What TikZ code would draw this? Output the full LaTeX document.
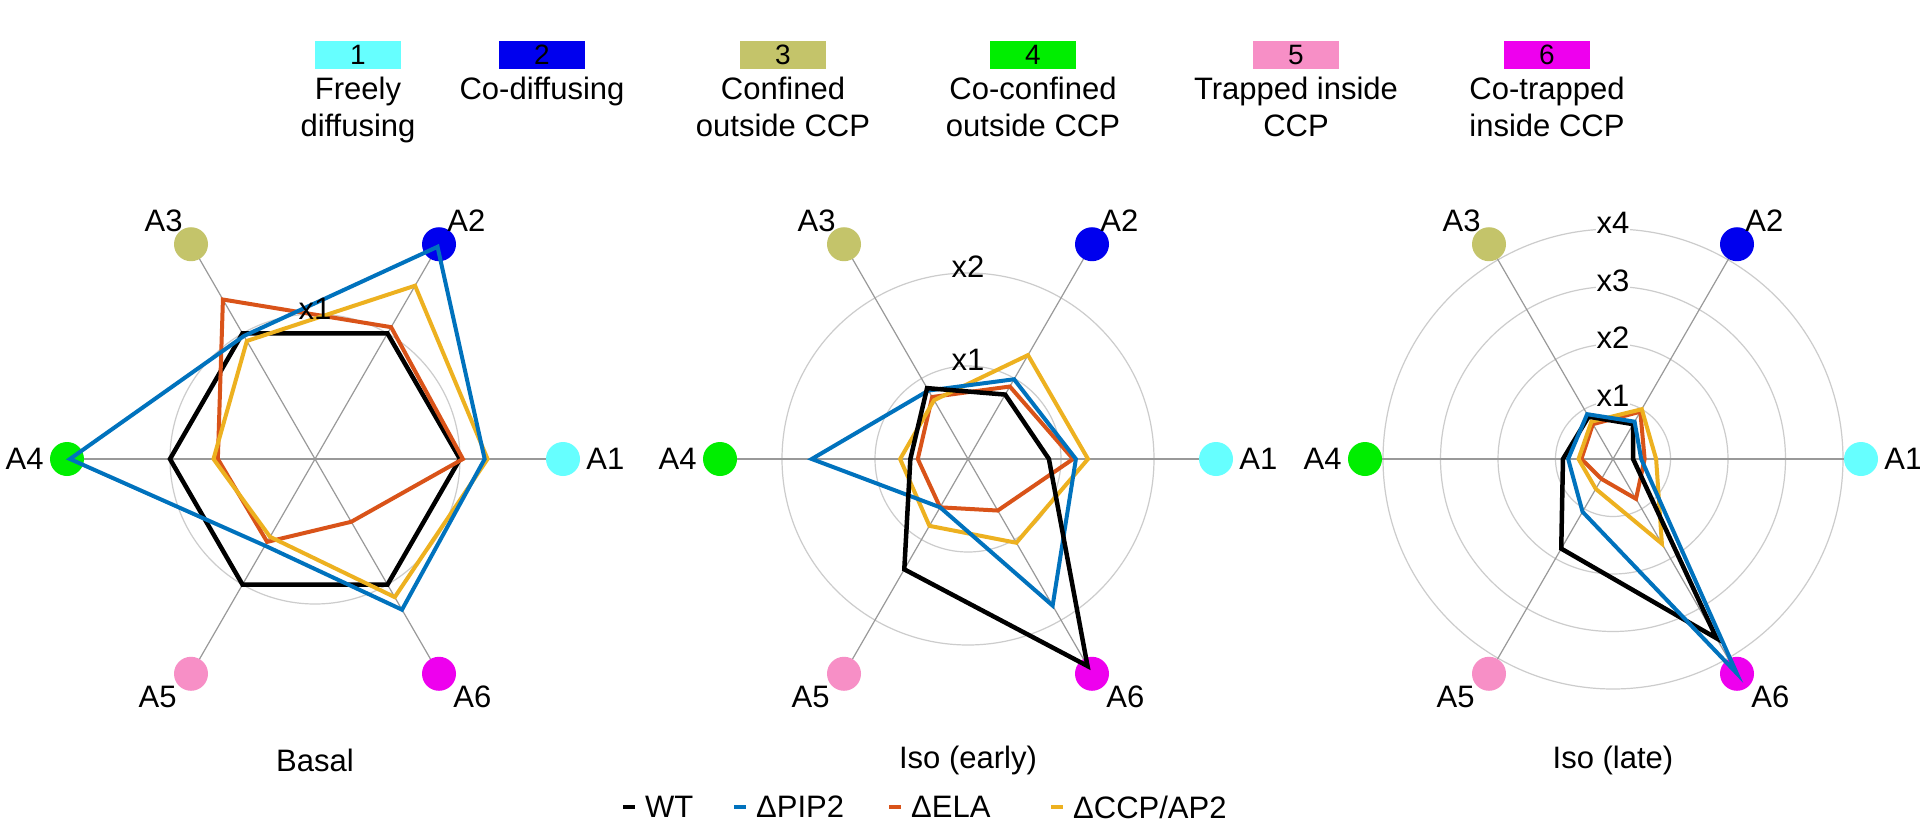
\documentclass[tikz,border=0pt]{standalone}
\usepackage{fontspec}
\setmainfont{Liberation Sans}
\definecolor{cOne}{HTML}{66FFFF}
\definecolor{cTwo}{HTML}{0000EE}
\definecolor{cThree}{HTML}{C4C46A}
\definecolor{cFour}{HTML}{00EE00}
\definecolor{cFive}{HTML}{F78FC6}
\definecolor{cSix}{HTML}{EE00EE}
\definecolor{pipblue}{HTML}{0072BD}
\definecolor{elared}{HTML}{D95319}
\definecolor{ccpgold}{HTML}{EDB120}
\tikzset{
  lbl/.style={font=\fontsize{31}{37}\selectfont, inner sep=2pt},
  catdot/.style={circle, inner sep=0pt, minimum size=34pt},
  axisline/.style={draw=gray!80, line width=1.2pt},
  ringline/.style={draw=gray!40, line width=1.2pt},
  wt/.style={draw=black, line width=4.5pt, line join=miter},
  pip/.style={draw=pipblue, line width=4pt},
  ela/.style={draw=elared, line width=4pt},
  ccp/.style={draw=ccpgold, line width=4pt},
  legbox/.style={minimum width=86pt, minimum height=28pt, inner sep=0pt, font=\fontsize{28}{32}\selectfont}
}
% one spider chart: prefix, centre x, title
\newcommand{\radar}[3]{%
  \foreach \i/\c in {1/cOne,2/cTwo,3/cThree,4/cFour,5/cFive,6/cSix}{
    \draw[axisline] (#2,-459) -- ++({60*(\i-1)}:248);
    \node[catdot, fill=\c] (#1-A\i) at ([shift={({60*(\i-1)}:248)}]#2,-459) {};
  }
  \node[lbl] (#1-title) at (#2,-760) {#3};
}
\newcommand{\radarlabels}[1]{%
  \node[lbl, anchor=west] at ([xshift=4pt]#1-A1.east) {A1};
  \node[lbl, anchor=south west] at ([xshift=-6pt,yshift=-2pt]#1-A2.north east) {A2};
  \node[lbl, anchor=south east] at ([xshift=6pt,yshift=-2pt]#1-A3.north west) {A3};
  \node[lbl, anchor=east] at ([xshift=-4pt]#1-A4.west) {A4};
  \node[lbl, anchor=north east] at ([xshift=0pt,yshift=2pt]#1-A5.south west) {A5};
  \node[lbl, anchor=north west] at ([xshift=0pt,yshift=2pt]#1-A6.south east) {A6};
}
% trace: style, centre x, unit, six values
\newcommand{\trace}[9]{%
  \draw[#1] ([shift={(0:#4*#3)}]#2,-459) -- ([shift={(60:#5*#3)}]#2,-459)
    -- ([shift={(120:#6*#3)}]#2,-459) -- ([shift={(180:#7*#3)}]#2,-459)
    -- ([shift={(240:#8*#3)}]#2,-459) -- ([shift={(300:#9*#3)}]#2,-459) -- cycle;
}
\begin{document}
\begin{tikzpicture}[x=1pt, y=1pt]
\useasboundingbox (0,0) rectangle (1920,-830);
\fill[white] (0,0) rectangle (1920,-830);

% top legend
\foreach \k/\c/\x/\t in {1/cOne/358/{Freely\\diffusing}, 2/cTwo/542/{Co-diffusing},
    3/cThree/783/{Confined\\outside CCP}, 4/cFour/1033/{Co-confined\\outside CCP},
    5/cFive/1296/{Trapped inside\\CCP}, 6/cSix/1547/{Co-trapped\\inside CCP}}{
  \node[legbox, fill=\c] (key\k) at (\x,-55) {\k};
  \node[lbl, align=center, anchor=north] (keytext\k) at ([yshift=-6pt]key\k.south) {\t};
}

% rings
\draw[ringline] (315,-459) circle (145);
\foreach \r in {93,186}{ \draw[ringline] (968,-459) circle (\r); }
\foreach \r in {57.5,115,172.5,230}{ \draw[ringline] (1613,-459) circle (\r); }

\radar{basal}{315}{Basal}
\radar{early}{968}{Iso (early)}
\radar{late}{1613}{Iso (late)}

% Basal
\trace{wt}{315}{145}{1}{1}{1}{1}{1}{1}
\trace{ela}{315}{145}{1.02}{1.05}{1.27}{0.67}{0.66}{0.5}
\trace{ccp}{315}{145}{1.19}{1.38}{0.94}{0.7}{0.62}{1.1}
\trace{pip}{315}{145}{1.17}{1.69}{0.98}{1.69}{0.69}{1.2}
% Iso (early)
\trace{ela}{968}{93}{1.13}{0.9}{0.77}{0.54}{0.6}{0.64}
\trace{ccp}{968}{93}{1.29}{1.29}{0.73}{0.73}{0.83}{1.04}
\trace{pip}{968}{93}{1.16}{0.99}{0.85}{1.68}{0.6}{1.82}
\trace{wt}{968}{93}{0.87}{0.8}{0.88}{0.62}{1.37}{2.57}
% Iso (late)
\trace{ela}{1613}{57.5}{0.55}{0.95}{0.7}{0.55}{0.4}{0.8}
\trace{ccp}{1613}{57.5}{0.75}{1.0}{0.75}{0.6}{0.6}{1.7}
\trace{wt}{1613}{57.5}{0.35}{0.7}{0.85}{0.87}{1.8}{3.6}
\trace{pip}{1613}{57.5}{0.49}{0.75}{0.9}{0.78}{1.06}{4.3}

\radarlabels{basal}
\radarlabels{early}
\radarlabels{late}

% ring labels
\node[lbl] (basalx1) at (315,-309) {x1};
\node[lbl] (earlyx1) at (968,-360) {x1};
\node[lbl] (earlyx2) at (968,-267) {x2};
\foreach \n in {1,2,3,4}{
  \node[lbl, fill=white, inner sep=1pt] (latex\n) at (1613,{-459+57.5*\n+6}) {x\n};
}

% bottom legend
\node[lbl, anchor=west] (legwt) at (643,-807) {WT};
\node[lbl, anchor=west] (legpip) at (754,-807) {ΔPIP2};
\node[lbl, anchor=west] (legela) at (909,-807) {ΔELA};
\node[lbl, anchor=west] (legccp) at (1071,-807) {ΔCCP/AP2};
\draw[wt] ([xshift=-20pt]legwt.west) -- ++(12,0);
\draw[pip] ([xshift=-20pt]legpip.west) -- ++(12,0);
\draw[ela] ([xshift=-20pt]legela.west) -- ++(12,0);
\draw[ccp] ([xshift=-20pt]legccp.west) -- ++(12,0);
\end{tikzpicture}
\end{document}
